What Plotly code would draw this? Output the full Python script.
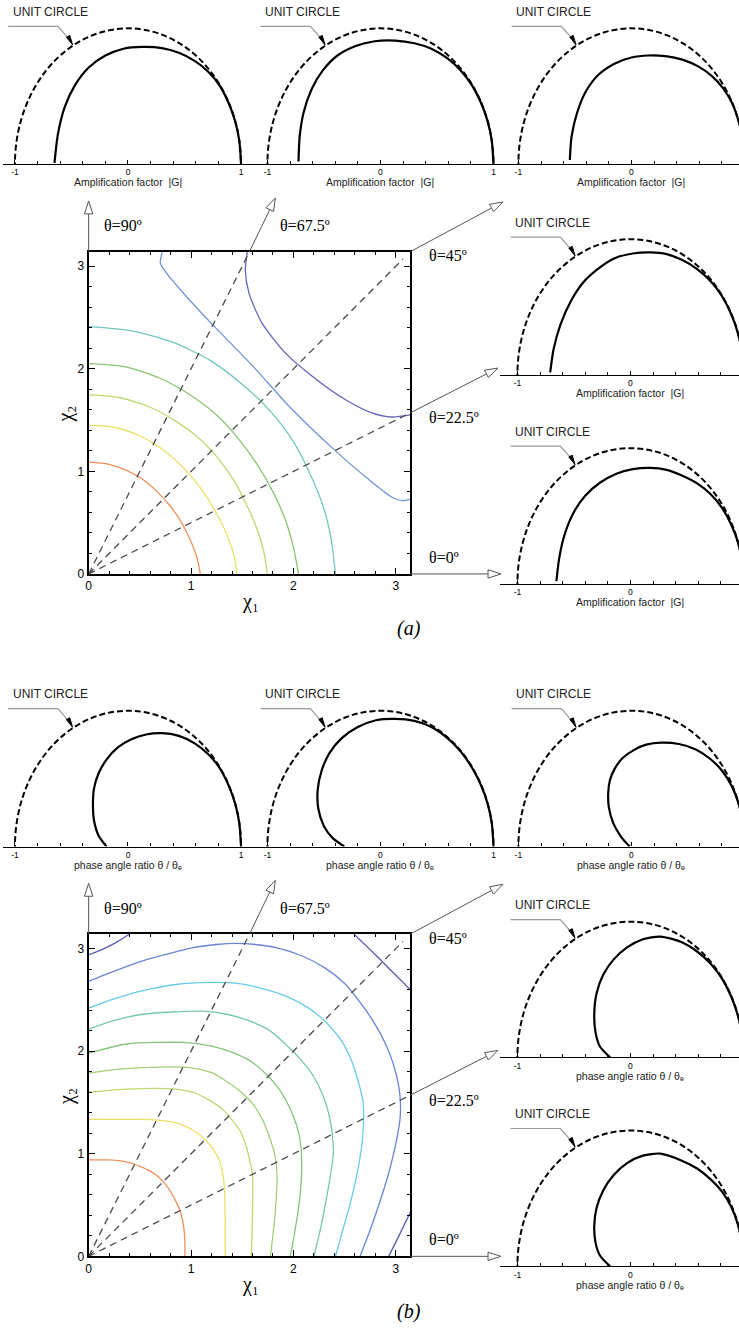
import math
import plotly.graph_objects as go

W, H = 739, 1331
PI = math.pi

# ---------------- panel (a): contour lines of |G| in (chi1, chi2) ----------------
a_orange_x = [0, 0.19, 0.37, 0.53, 0.67, 0.79, 0.89, 0.97, 1.03, 1.07, 1.09]
a_orange_y = [1.09, 1.07, 1.01, 0.92, 0.80, 0.67, 0.53, 0.38, 0.24, 0.11, 0]
a_yellow_x = [0, 0.25, 0.49, 0.70, 0.88, 1.03, 1.16, 1.27, 1.36, 1.42, 1.45]
a_yellow_y = [1.45, 1.43, 1.35, 1.23, 1.08, 0.92, 0.74, 0.55, 0.36, 0.18, 0]
a_ygreen_x = [0, 0.30, 0.59, 0.85, 1.08, 1.27, 1.42, 1.54, 1.64, 1.71, 1.745]
a_ygreen_y = [1.745, 1.72, 1.63, 1.49, 1.32, 1.12, 0.91, 0.68, 0.45, 0.22, 0]
a_green_x = [0, 0.35, 0.69, 1.00, 1.26, 1.47, 1.65, 1.80, 1.92, 2.00, 2.05]
a_green_y = [2.05, 2.02, 1.91, 1.74, 1.54, 1.31, 1.06, 0.80, 0.53, 0.26, 0]
a_teal_x = [0, 0.42, 0.82, 1.19, 1.51, 1.78, 2.00, 2.16, 2.29, 2.37, 2.41]
a_teal_y = [2.41, 2.37, 2.26, 2.08, 1.84, 1.58, 1.29, 0.98, 0.66, 0.33, 0]
a_steel_x = [0.72, 0.70, 0.77, 0.95, 1.21, 1.60, 1.99, 2.41, 2.73, 2.96, 3.06, 3.1416]
a_steel_y = [3.1416, 3.03, 2.92, 2.71, 2.43, 2.03, 1.60, 1.20, 0.925, 0.75, 0.715, 0.73]
a_slate_x = [1.55, 1.53, 1.565, 1.69, 1.92, 2.18, 2.505, 2.765, 2.96, 3.1416]
a_slate_y = [3.1416, 2.96, 2.74, 2.45, 2.155, 1.93, 1.70, 1.57, 1.53, 1.55]

# ---------------- panel (b): contour lines of theta/theta_e ----------------
b_orange_x = [0, 0.2, 0.37, 0.52, 0.65, 0.76, 0.84, 0.90, 0.93, 0.94, 0.94]
b_orange_y = [0.94, 0.94, 0.92, 0.87, 0.80, 0.69, 0.56, 0.42, 0.27, 0.13, 0]
b_yellow_x = [0, 0.30, 0.53, 0.75, 0.92, 1.05, 1.145, 1.22, 1.275, 1.31, 1.325, 1.333, 1.333]
b_yellow_y = [1.335, 1.335, 1.335, 1.32, 1.28, 1.21, 1.13, 1.04, 0.94, 0.80, 0.68, 0.36, 0]
b_ygreen_x = [0, 0.37, 0.85, 1.05, 1.18, 1.30, 1.40, 1.48, 1.53, 1.57, 1.60, 1.60, 1.59]
b_ygreen_y = [1.60, 1.63, 1.63, 1.59, 1.52, 1.44, 1.33, 1.22, 1.10, 0.95, 0.80, 0.45, 0]
b_lgreen_x = [0, 0.25, 0.53, 0.98, 1.20, 1.34, 1.48, 1.60, 1.69, 1.76, 1.82, 1.84, 1.82, 1.775]
b_lgreen_y = [1.785, 1.82, 1.84, 1.84, 1.79, 1.71, 1.61, 1.49, 1.35, 1.18, 0.98, 0.80, 0.40, 0]
b_green_x = [0, 0.37, 0.92, 1.20, 1.37, 1.57, 1.73, 1.86, 1.96, 2.03, 2.07, 2.08, 2.06, 2.02, 1.97]
b_green_y = [1.98, 2.07, 2.085, 2.05, 2.00, 1.91, 1.78, 1.63, 1.455, 1.28, 1.10, 0.85, 0.55, 0.28, 0]
b_teal_x = [0, 0.25, 0.53, 1.11, 1.35, 1.57, 1.77, 1.92, 2.06, 2.18, 2.28, 2.345, 2.38, 2.39, 2.36, 2.31, 2.26, 2.20]
b_teal_y = [2.215, 2.30, 2.36, 2.39, 2.36, 2.295, 2.20, 2.07, 1.93, 1.78, 1.59, 1.39, 1.19, 1.0, 0.78, 0.50, 0.25, 0]
b_cyan_x = [0, 0.25, 0.53, 0.85, 1.18, 1.45, 1.66, 1.92, 2.15, 2.33, 2.47, 2.57, 2.64, 2.68, 2.685, 2.67, 2.62, 2.55, 2.48, 2.41]
b_cyan_y = [2.42, 2.51, 2.59, 2.65, 2.67, 2.66, 2.62, 2.54, 2.42, 2.27, 2.10, 1.90, 1.68, 1.50, 1.33, 1.10, 0.80, 0.50, 0.25, 0]
b_blue_x = [0, 0.25, 0.53, 0.78, 1.02, 1.25, 1.44, 1.63, 1.83, 2.08, 2.31, 2.50, 2.64, 2.78, 2.90, 2.98,
            3.03, 3.045, 3.04, 3.00, 2.93, 2.84, 2.75, 2.65]
b_blue_y = [2.68, 2.78, 2.88, 2.95, 3.01, 3.04, 3.05, 3.04, 3.01, 2.93, 2.81, 2.66, 2.49, 2.29, 2.07, 1.86,
            1.65, 1.49, 1.33, 1.10, 0.81, 0.52, 0.26, 0]
b_dblue_x = [0, 0.13, 0.27, 0.40, None, 2.59, 2.80, 2.99, 3.1416, None, 2.93, 3.03, 3.1416]
b_dblue_y = [2.94, 2.99, 3.06, 3.1416, None, 3.1416, 2.94, 2.75, 2.60, None, 0, 0.20, 0.43]

a_colors = ['#F0905A', '#E8E26A', '#BCD870', '#8CC474', '#72C8BC', '#7094D8', '#6464BC']
b_colors = ['#F0905A', '#EEE066', '#BCD870', '#A2D078', '#86C47E', '#78C8A8', '#66CCE6', '#6A84D6', '#5A5CB4']

# dashed rays theta = 22.5, 45, 67.5 (end points in chi1, chi2)
ray_end_x = [PI, 3.07, PI / 2]
ray_end_y = [PI / 2, 3.07, PI]

# ---------------- polar plots: complex amplification factor (Re, Im) ----------------
A1_re = [1.0, 0.985, 0.95, 0.89, 0.81, 0.71, 0.59, 0.45, 0.30, 0.13, -0.04, -0.20, -0.35, -0.47, -0.56, -0.62, -0.65]
A1_im = [0.0, 0.17, 0.31, 0.45, 0.58, 0.68, 0.76, 0.82, 0.855, 0.863, 0.85, 0.80, 0.71, 0.58, 0.42, 0.22, 0.01]
A2_re = [1.0, 0.985, 0.95, 0.89, 0.81, 0.71, 0.59, 0.45, 0.30, 0.13, -0.05, -0.22, -0.38, -0.51, -0.61, -0.68, -0.715, -0.725]
A2_im = [0.0, 0.17, 0.31, 0.45, 0.58, 0.69, 0.78, 0.85, 0.89, 0.91, 0.905, 0.87, 0.80, 0.69, 0.55, 0.38, 0.20, 0.02]
A3_re = [1.0, 0.985, 0.95, 0.89, 0.81, 0.71, 0.59, 0.45, 0.30, 0.15, 0.0, -0.15, -0.29, -0.40, -0.48, -0.53, -0.545]
A3_im = [0.0, 0.17, 0.31, 0.45, 0.56, 0.65, 0.72, 0.77, 0.795, 0.80, 0.785, 0.74, 0.66, 0.54, 0.38, 0.20, 0.03]
A4_re = [1.0, 0.985, 0.95, 0.89, 0.81, 0.71, 0.59, 0.45, 0.32, 0.176, 0.02, -0.14, -0.29, -0.42, -0.53, -0.62, -0.68, -0.71]
A4_im = [0.0, 0.17, 0.31, 0.45, 0.58, 0.69, 0.78, 0.85, 0.89, 0.903, 0.895, 0.86, 0.78, 0.68, 0.54, 0.37, 0.19, 0.02]
A5_re = [1.0, 0.985, 0.95, 0.89, 0.81, 0.71, 0.59, 0.45, 0.32, 0.176, 0.02, -0.13, -0.27, -0.40, -0.50, -0.58, -0.63, -0.655]
A5_im = [0.0, 0.17, 0.31, 0.44, 0.56, 0.66, 0.74, 0.80, 0.84, 0.855, 0.845, 0.81, 0.745, 0.65, 0.53, 0.37, 0.19, 0.02]

B1_re = [1.0, 0.985, 0.95, 0.89, 0.81, 0.71, 0.59, 0.45, 0.30, 0.16, 0.03, -0.09, -0.19, -0.26, -0.30, -0.31, -0.30, -0.26, -0.19]
B1_im = [0.0, 0.17, 0.31, 0.45, 0.58, 0.68, 0.76, 0.815, 0.835, 0.825, 0.79, 0.73, 0.64, 0.54, 0.43, 0.31, 0.19, 0.08, 0.0]
B2_re = [1.0, 0.985, 0.95, 0.89, 0.81, 0.71, 0.59, 0.45, 0.30, 0.13, -0.04, -0.20, -0.34, -0.45, -0.52, -0.555, -0.55, -0.50, -0.42, -0.32]
B2_im = [0.0, 0.17, 0.31, 0.45, 0.58, 0.70, 0.80, 0.88, 0.925, 0.94, 0.93, 0.88, 0.80, 0.69, 0.56, 0.42, 0.28, 0.15, 0.06, 0.0]
B3_re = [1.0, 0.985, 0.95, 0.89, 0.80, 0.69, 0.57, 0.42, 0.265, 0.13, 0.02, -0.08, -0.15, -0.19, -0.205, -0.20, -0.16, -0.09, -0.015]
B3_im = [0.0, 0.17, 0.31, 0.44, 0.56, 0.65, 0.715, 0.755, 0.765, 0.75, 0.71, 0.65, 0.57, 0.49, 0.40, 0.29, 0.17, 0.07, 0.0]
B4_re = [1.0, 0.985, 0.95, 0.89, 0.81, 0.71, 0.59, 0.45, 0.265, 0.11, -0.03, -0.15, -0.24, -0.30, -0.32, -0.31, -0.27, -0.18]
B4_im = [0.0, 0.17, 0.31, 0.45, 0.58, 0.69, 0.78, 0.85, 0.89, 0.87, 0.81, 0.72, 0.61, 0.47, 0.32, 0.19, 0.08, 0.0]
B5_re = [1.0, 0.985, 0.95, 0.89, 0.81, 0.71, 0.59, 0.45, 0.265, 0.11, -0.03, -0.15, -0.24, -0.30, -0.32, -0.31, -0.27, -0.18]
B5_im = [0.0, 0.17, 0.31, 0.44, 0.55, 0.64, 0.72, 0.78, 0.83, 0.815, 0.76, 0.67, 0.56, 0.43, 0.30, 0.18, 0.08, 0.0]

small_ticks = [-1, 0, 1]
small_ticktext = ['-1', '0', '1']
theta_labels = ['θ=90º', 'θ=67.5º', 'θ=45º', 'θ=22.5º', 'θ=0º']
main_ticks = [0, 1, 2, 3]

# ---------------- layout geometry (pixels) ----------------
PANEL_TOP = [253, 939]
BOX_L, BOX_W, BOX_H = 86, 323, 324
SMALL_CX = [125.5, 379, 631, 630, 630]
SMALL_DY = [-88, -88, -88, 124, 334]
UX, UY = 113.5, 136.5
ARROW_AX = [0, PI / 2, PI, PI, PI]
ARROW_AY = [PI, PI, PI, PI / 2, 0]
ARROW_D = [(0, -51), (26, -54), (93, -50), (88, -45), (91, 0)]
LABEL_POS = [(120, -26), (303, -26), (447, 4), (453, 167), (443, 307)]

SANS = 'Liberation Sans, Arial, sans-serif'
SERIF = 'Liberation Serif, Times New Roman, DejaVu Serif, serif'

fig = go.Figure()
layout = dict(width=W, height=H, margin=dict(l=0, r=0, t=0, b=0),
              paper_bgcolor='white', plot_bgcolor='rgba(0,0,0,0)', showlegend=False)
shapes, annotations = [], []


def P(px, py):
    return px / W, 1 - py / H


def axname(letter, n):
    return letter if n == 1 else f'{letter}{n}'


def open_arrow(x0, y0, x1, y1, L=13, hw=4.2, color='#555'):
    dx, dy = x1 - x0, y1 - y0
    d = math.hypot(dx, dy)
    ux_, uy_ = dx / d, dy / d
    bx, by = x1 - L * ux_, y1 - L * uy_
    nx, ny = -uy_, ux_
    a0, a1 = P(x0, y0), P(bx, by)
    shapes.append(dict(type='line', xref='paper', yref='paper', x0=a0[0], y0=a0[1], x1=a1[0], y1=a1[1],
                       line=dict(color=color, width=1)))
    t, l, r = P(x1, y1), P(bx + hw * nx, by + hw * ny), P(bx - hw * nx, by - hw * ny)
    shapes.append(dict(type='path', xref='paper', yref='paper',
                       path=f'M {t[0]},{t[1]} L {l[0]},{l[1]} L {r[0]},{r[1]} Z',
                       fillcolor='white', line=dict(color=color, width=1)))


def text(px, py, s, size, family=SANS, xanchor='center', textangle=0, color='black'):
    x, y = P(px, py)
    annotations.append(dict(xref='paper', yref='paper', x=x, y=y, text=s, showarrow=False,
                            xanchor=xanchor, yanchor='middle', textangle=textangle,
                            font=dict(family=family, size=size, color=color)))


panel_contours = [
    [(a_orange_x, a_orange_y), (a_yellow_x, a_yellow_y), (a_ygreen_x, a_ygreen_y), (a_green_x, a_green_y),
     (a_teal_x, a_teal_y), (a_steel_x, a_steel_y), (a_slate_x, a_slate_y)],
    [(b_orange_x, b_orange_y), (b_yellow_x, b_yellow_y), (b_ygreen_x, b_ygreen_y), (b_lgreen_x, b_lgreen_y),
     (b_green_x, b_green_y), (b_teal_x, b_teal_y), (b_cyan_x, b_cyan_y), (b_blue_x, b_blue_y),
     (b_dblue_x, b_dblue_y)],
]
panel_colors = [a_colors, b_colors]
panel_small = [
    [(A1_re, A1_im), (A2_re, A2_im), (A3_re, A3_im), (A4_re, A4_im), (A5_re, A5_im)],
    [(B1_re, B1_im), (B2_re, B2_im), (B3_re, B3_im), (B4_re, B4_im), (B5_re, B5_im)],
]
panel_xlabel = ['Amplification factor  |G|', 'phase angle ratio θ / θₑ']
panel_xlabel_dy = [18, 19]
panel_caption = ['<i>(a)</i>', '<i>(b)</i>']

for k, top in enumerate(PANEL_TOP):
    n = k + 1
    xn, yn = axname('x', n), axname('y', n)
    bottom = top + BOX_H
    common = dict(range=[0, PI], showline=True, linewidth=2, linecolor='black', mirror='ticks',
                  ticks='inside', ticklen=6, tickwidth=1, tickcolor='black', tickvals=main_ticks,
                  showgrid=False, zeroline=False, tickfont=dict(family=SANS, size=12, color='black'),
                  minor=dict(dtick=0.2, tick0=0, ticks='inside', ticklen=3, tickcolor='black', showgrid=False))
    layout[axname('xaxis', n)] = dict(common, domain=[BOX_L / W, (BOX_L + BOX_W) / W], anchor=yn)
    layout[axname('yaxis', n)] = dict(common, domain=[1 - bottom / H, 1 - top / H], anchor=xn)

    for (xs, ys), c in zip(panel_contours[k], panel_colors[k]):
        fig.add_trace(go.Scatter(x=xs, y=ys, mode='lines', xaxis=xn, yaxis=yn, hoverinfo='skip',
                                 line=dict(color=c, width=1.3, shape='spline', smoothing=0.7)))
    rx, ry = [], []
    for ex, ey in zip(ray_end_x, ray_end_y):
        rx += [0, ex, None]
        ry += [0, ey, None]
    fig.add_trace(go.Scatter(x=rx, y=ry, mode='lines', xaxis=xn, yaxis=yn, hoverinfo='skip',
                             line=dict(color='#4a4a4a', width=1.3, dash='7px,5px')))

    for axx, axy, (ddx, ddy) in zip(ARROW_AX, ARROW_AY, ARROW_D):
        sx = BOX_L + axx / PI * BOX_W
        sy = bottom - axy / PI * BOX_H
        open_arrow(sx, sy, sx + ddx, sy + ddy)
    for s, (lx, ly) in zip(theta_labels, LABEL_POS):
        text(lx, top + ly, s, 16, family=SERIF)

    text(BOX_L + BOX_W / 2 + 1, top + 352, 'χ₁', 20, family=SERIF)
    text(63, top + BOX_H / 2 + 1, 'χ₂', 20, family=SERIF, textangle=-90)
    text(408, top + 379, panel_caption[k], 20, family=SERIF)

    for i, (re, im) in enumerate(panel_small[k]):
        m = 3 + 5 * k + i
        sxn, syn = axname('x', m), axname('y', m)
        cx = SMALL_CX[i]
        ay = top + SMALL_DY[i]
        left = max(0.0, cx - 1.15 * UX)
        right = min(W, cx + 1.12 * UX)
        layout[axname('xaxis', m)] = dict(
            domain=[left / W, right / W], range=[(left - cx) / UX, (right - cx) / UX], anchor=syn,
            showline=True, linewidth=1.3, linecolor='black', ticks='inside', ticklen=4, tickwidth=1,
            tickcolor='black', tickvals=small_ticks, ticktext=small_ticktext, showgrid=False,
            zeroline=False, tickfont=dict(family=SANS, size=8.5, color='black'),
            minor=dict(dtick=0.2, tick0=0, ticks='inside', ticklen=3, tickcolor='black', showgrid=False))
        layout[axname('yaxis', m)] = dict(domain=[1 - ay / H, 1 - (ay - 1.1 * UY) / H], range=[0, 1.1],
                                          anchor=sxn, visible=False)
        fig.add_trace(go.Scatter(x=re, y=im, mode='lines', xaxis=sxn, yaxis=syn, hoverinfo='skip',
                                 cliponaxis=False,
                                 line=dict(color='black', width=2.2, shape='spline', smoothing=0.7)))
        shapes.append(dict(type='circle', xref=sxn, yref=syn, x0=-1, y0=-1, x1=1, y1=1,
                           line=dict(color='black', width=2, dash='6px,3px')))
        shapes.append(dict(type='path', xref=sxn, yref=syn,
                           path='M -1.06,1.015 L -0.62,1.015 L -0.52,0.92',
                           line=dict(color='#999999', width=1.2)))
        shapes.append(dict(type='path', xref=sxn, yref=syn,
                           path='M -0.49,0.878 L -0.545,0.935 L -0.515,0.948 Z',
                           fillcolor='black', line=dict(color='black', width=1)))
        text(cx - 1.035 * UX, ay - 153, 'UNIT CIRCLE', 12, xanchor='left', color='#222')
        text(cx, ay + panel_xlabel_dy[k], panel_xlabel[k], 10.5, color='#222')

layout['shapes'] = shapes
layout['annotations'] = annotations
fig.update_layout(**layout)
fig.write_html('out.html', config={'displayModeBar': False},
               post_script="document.body.style.margin='0px';")
